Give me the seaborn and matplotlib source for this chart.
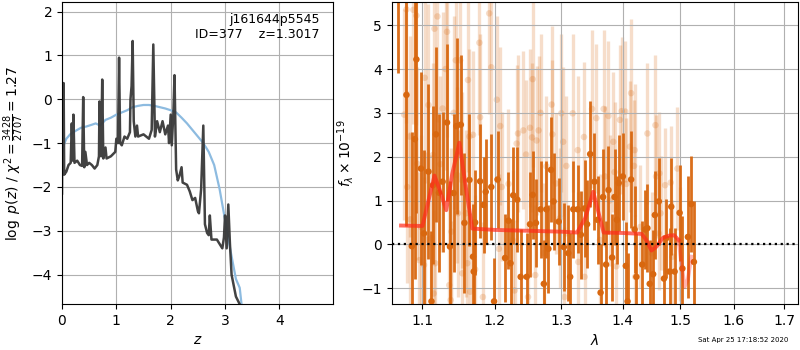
import matplotlib
matplotlib.use("Agg")
import matplotlib.pyplot as plt
from matplotlib.ticker import NullLocator, FixedLocator, FixedFormatter
import seaborn as sns

# p(z) curves
z_fit = [0.00, 0.01, 0.02, 0.03, 0.04, 0.08, 0.12, 0.16, 0.18, 0.20, 0.21, 0.23,
         0.28, 0.33, 0.37, 0.39, 0.41, 0.43, 0.46, 0.50, 0.55, 0.60, 0.65, 0.68,
         0.69, 0.70, 0.72, 0.74, 0.76, 0.80, 0.82, 0.90, 0.98, 1.00, 1.03, 1.05,
         1.07, 1.10, 1.15, 1.20, 1.25, 1.26, 1.28, 1.30, 1.32, 1.35, 1.38, 1.40,
         1.50, 1.60, 1.65, 1.68, 1.71, 1.75, 1.80, 1.85, 1.90, 1.95, 1.97, 2.00,
         2.02, 2.05, 2.07, 2.10, 2.13, 2.16, 2.20, 2.22, 2.30, 2.35, 2.40, 2.45,
         2.50, 2.52, 2.56, 2.60, 2.63, 2.67, 2.70, 2.72, 2.75, 2.85, 2.90, 2.95,
         2.98, 3.00, 3.03, 3.06, 3.09, 3.12, 3.20, 3.30]
logpz = [-2.15, 0.35, -1.00, 0.37, -1.72, -1.65, -1.50, -1.45, -0.55, -1.40, -0.35, -1.45,
         -1.40, -1.50, -1.52, 0.05, -1.55, -1.20, -1.50, -1.45, -1.50, -1.58, -1.50, -1.30,
         -0.05, -1.25, -1.30, 0.45, -1.35, -1.10, -1.35, -1.30, -1.20, -0.90, -1.00, 0.95,
         -1.00, -1.05, -0.85, -0.90, -0.75, 0.00, 0.30, 1.33, -0.50, -0.85, -0.60, -0.85,
         -0.80, -0.90, -0.70, 1.25, -0.85, -0.50, -0.75, -0.50, -0.80, -0.60, -1.00, -0.35,
         -1.05, -0.30, 0.55, -1.60, -1.85, -1.75, -1.55, -1.90, -1.95, -2.10, -2.30, -2.25,
         -2.55, -2.60, -2.05, -0.60, -2.85, -3.05, -3.10, -2.65, -3.20, -3.20, -3.30, -3.40,
         -3.15, -2.65, -3.40, -2.40, -3.30, -4.00, -4.50, -4.75]

z_prior = [0.00, 0.03, 0.08, 0.15, 0.25, 0.35, 0.45, 0.55, 0.62, 0.70, 0.80, 0.90,
           1.00, 1.10, 1.20, 1.30, 1.40, 1.50, 1.60, 1.70, 1.80, 1.90, 2.00, 2.10,
           2.20, 2.30, 2.40, 2.50, 2.60, 2.70, 2.80, 2.90, 3.00, 3.10, 3.20, 3.27, 3.31]
logp_prior = [-1.30, -1.05, -0.90, -0.80, -0.72, -0.65, -0.62, -0.58, -0.55, -0.60, -0.47, -0.42,
              -0.35, -0.30, -0.25, -0.18, -0.15, -0.13, -0.13, -0.15, -0.18, -0.21, -0.25, -0.30,
              -0.42, -0.55, -0.70, -0.85, -1.00, -1.20, -1.50, -2.05, -2.75, -3.45, -4.10, -4.30, -4.75]

# spectrum, primary (dark) points
wave_a = [1.068, 1.079, 1.086, 1.090, 1.092, 1.098, 1.102, 1.108, 1.112, 1.114,
          1.118, 1.122, 1.127, 1.133, 1.137, 1.142, 1.146, 1.152, 1.157, 1.164,
          1.169, 1.170, 1.172, 1.179, 1.184, 1.187, 1.195, 1.199, 1.204, 1.215,
          1.220, 1.223, 1.227, 1.233, 1.238, 1.247, 1.252, 1.256, 1.261, 1.268,
          1.273, 1.277, 1.280, 1.284, 1.288, 1.296, 1.304, 1.311, 1.314, 1.319,
          1.326, 1.331, 1.337, 1.341, 1.346, 1.353, 1.358, 1.363, 1.367, 1.372,
          1.376, 1.382, 1.386, 1.390, 1.393, 1.400, 1.405, 1.408, 1.414, 1.420,
          1.423, 1.433, 1.438, 1.442, 1.446, 1.452, 1.455, 1.462, 1.471, 1.475,
          1.481, 1.484, 1.490, 1.499, 1.504, 1.514, 1.520, 1.525]
flux_a = [6.90, 3.41, -0.04, 2.40, 4.22, 1.73, 0.25, 1.66, -1.30, 1.35,
          2.51, 1.18, 1.43, 2.78, -0.05, 1.17, 2.70, 2.73, 0.49, 1.47,
          -0.28, -0.62, 0.50, 1.44, 0.90, 1.20, 1.31, -1.30, 1.48, -0.31,
          0.54, -0.43, 1.12, 1.02, -0.74, -0.74, 0.46, 1.13, 0.49, 0.80,
          -0.90, 0.80, -0.10, 1.70, 0.98, 0.52, -0.06, -0.20, -0.74, 0.80,
          0.80, 0.22, 0.82, 0.46, 2.06, 1.43, 0.56, -1.10, 1.08, -0.46,
          1.24, -0.30, 1.08, 0.56, 1.40, 1.55, -0.49, -1.30, 1.48, 0.34,
          -0.74, -0.46, 0.34, 0.37, -0.90, -0.68, 0.67, 0.98, -0.78, 0.14,
          -0.62, 0.86, -0.62, 0.72, -0.55, 0.17, 0.92, -0.40]
err_a = [3.0, 3.0, 2.6, 3.2, 3.5, 2.2, 1.9, 2.0, 1.6, 1.8,
         2.0, 1.8, 1.6, 1.8, 1.5, 1.8, 2.0, 1.6, 1.6, 1.5,
         1.2, 1.2, 1.2, 1.3, 1.1, 1.2, 1.2, 1.0, 1.1, 1.0,
         1.1, 1.0, 1.1, 1.2, 1.1, 1.0, 1.2, 1.0, 1.0, 1.1,
         1.0, 1.1, 1.0, 1.2, 1.1, 1.0, 1.0, 1.1, 1.0, 1.1,
         1.0, 1.0, 1.1, 1.0, 1.2, 1.1, 1.0, 1.1, 1.1, 1.0,
         1.0, 1.0, 1.1, 1.0, 1.1, 1.0, 1.0, 1.1, 1.1, 1.0,
         1.0, 1.0, 0.9, 1.0, 1.0, 1.0, 1.0, 1.0, 1.0, 0.9,
         1.0, 1.1, 1.0, 1.1, 1.2, 1.4, 1.1, 1.4]

# spectrum, second (faint) points
wave_b = [1.076, 1.079, 1.080, 1.083, 1.084, 1.088, 1.092, 1.093, 1.096, 1.098,
          1.102, 1.103, 1.104, 1.108, 1.112, 1.114, 1.115, 1.116, 1.117, 1.120,
          1.124, 1.127, 1.131, 1.133, 1.136, 1.138, 1.139, 1.142, 1.145, 1.147,
          1.148, 1.151, 1.153, 1.154, 1.159, 1.161, 1.162, 1.164, 1.165, 1.169,
          1.172, 1.178, 1.179, 1.183, 1.192, 1.195, 1.203, 1.206, 1.208, 1.210,
          1.220, 1.226, 1.229, 1.232, 1.234, 1.242, 1.246, 1.249, 1.252, 1.255,
          1.256, 1.260, 1.262, 1.265, 1.268, 1.273, 1.277, 1.285, 1.286, 1.292,
          1.298, 1.300, 1.303, 1.305, 1.308, 1.318, 1.326, 1.327, 1.336, 1.337,
          1.349, 1.356, 1.362, 1.368, 1.370, 1.376, 1.378, 1.384, 1.386, 1.389,
          1.395, 1.398, 1.404, 1.406, 1.412, 1.414, 1.419, 1.420, 1.421, 1.430,
          1.442, 1.450, 1.456, 1.457, 1.462, 1.463, 1.465, 1.473, 1.483, 1.486,
          1.495, 1.500]
flux_b = [2.96, 5.36, 1.31, 2.46, 0.57, 5.35, 5.22, 1.84, -0.36, 0.40,
          -0.47, 3.80, 0.11, 3.18, 0.14, 2.04, -1.12, 4.92, -0.43, 5.20,
          1.83, 3.10, 4.00, 4.85, -0.93, -1.27, 0.29, 3.00, 4.20, 1.58,
          0.71, 4.20, 1.47, -0.66, 0.71, -0.43, 3.75, 2.46, -1.08, 2.50,
          -0.57, 4.60, 2.90, -1.20, 5.27, 4.04, 3.30, -0.10, 2.70, 1.31,
          1.38, 0.10, -1.05, 2.30, 2.53, 2.60, 2.05, -1.20, 2.66, 2.44,
          3.77, -0.70, 2.37, 2.60, 3.00, -0.20, 1.78, 3.19, 2.51, 1.39,
          0.60, 2.99, 2.34, -1.20, 1.79, 2.99, 2.15, -0.40, 2.45, -0.74,
          3.09, 2.88, 0.10, 3.09, 1.55, 2.93, 1.00, 2.34, 1.65, -0.50,
          2.84, 3.04, 3.03, 1.38, 2.23, 3.45, 1.79, 2.15, -0.74, 0.40,
          2.53, -0.20, 2.72, 1.55, 0.25, 1.62, 0.71, 1.35, 1.41, -0.28,
          1.73, 0.02]
err_b = [2.4, 2.6, 2.2, 2.3, 2.0, 2.6, 2.5, 2.2, 2.0, 2.1,
         2.0, 2.4, 2.0, 2.3, 1.9, 2.1, 1.9, 2.4, 1.9, 2.4,
         2.0, 2.2, 2.3, 2.4, 1.9, 1.8, 1.9, 2.2, 2.3, 2.0,
         1.9, 2.2, 2.0, 1.8, 1.9, 1.8, 2.1, 2.0, 1.8, 1.9,
         1.7, 2.1, 1.9, 1.7, 2.3, 2.0, 1.9, 1.7, 1.8, 1.7,
         1.7, 1.6, 1.6, 1.8, 1.8, 1.8, 1.7, 1.6, 1.8, 1.7,
         2.0, 1.6, 1.7, 1.7, 1.8, 1.6, 1.6, 1.8, 1.7, 1.6,
         1.6, 1.8, 1.7, 1.6, 1.6, 1.8, 1.7, 1.6, 1.7, 1.6,
         1.8, 1.7, 1.5, 1.8, 1.6, 1.7, 1.5, 1.6, 1.6, 1.5,
         1.7, 1.7, 1.6, 1.5, 1.5, 1.7, 1.5, 1.5, 1.4, 1.4,
         1.6, 1.4, 1.6, 1.4, 1.3, 1.4, 1.3, 1.3, 1.3, 1.3,
         1.4, 1.3]

# best-fit model
wave_model = [1.072, 1.100, 1.108, 1.116, 1.124, 1.132, 1.140, 1.150, 1.158, 1.168,
              1.200, 1.250, 1.300, 1.325, 1.338, 1.351, 1.360, 1.368, 1.400, 1.432,
              1.440, 1.449, 1.458, 1.469, 1.480, 1.489, 1.497]
flux_model = [0.43, 0.42, 1.00, 1.57, 1.20, 0.78, 1.60, 2.32, 1.40, 0.36,
              0.33, 0.31, 0.29, 0.27, 0.60, 1.20, 0.70, 0.27, 0.26, 0.24,
              0.10, -0.14, -0.05, 0.15, 0.20, 0.21, 0.10]
wave_tail = [1.497, 1.503, 1.508, 1.514, 1.520]
flux_tail = [0.10, -0.50, -0.97, -0.80, -0.28]

xticks = [1.1, 1.2, 1.3, 1.4, 1.5, 1.6, 1.7]

orange = "#d8670f"

fig = plt.figure(figsize=(8, 3.5), dpi=100)
ax1 = fig.add_axes([0.0775, 0.1314, 0.339, 0.863])
ax2 = fig.add_axes([0.4896, 0.1314, 0.5085, 0.863])

# --- left: p(z)
sns.lineplot(x=z_prior, y=logp_prior, ax=ax1, sort=False, estimator=None,
             color="#8dbbe0", lw=1.6)
sns.lineplot(x=z_fit, y=logpz, ax=ax1, sort=False, estimator=None,
             color="0.22", lw=1.8, alpha=0.95)
ax1.set_xlim(0, 4.99)
ax1.set_ylim(-4.67, 2.22)
ax1.set_xticks([0, 1, 2, 3, 4])
ax1.set_yticks([-4, -3, -2, -1, 0, 1, 2])
ax1.grid(True)
ax1.set_xlabel("$z$")
ax1.set_ylabel(r"$\log\ p(z)$ / $\chi^2=\frac{3428}{2707}=1.27$")
ax1.text(0.95, 0.965, "j161644p5545\nID=377    z=1.3017", ha="right", va="top",
         transform=ax1.transAxes, fontsize=9)

# --- right: spectrum
ax2.errorbar(wave_b, flux_b, yerr=err_b, fmt="none", ecolor=orange, alpha=0.22,
             elinewidth=2.4, capsize=0, zorder=1)
sns.scatterplot(x=wave_b, y=flux_b, ax=ax2, color=orange, alpha=0.22, s=22,
                edgecolor="none", zorder=1)
ax2.errorbar(wave_a, flux_a, yerr=err_a, fmt="none", ecolor=orange, alpha=0.95,
             elinewidth=2.0, capsize=0, zorder=2)
sns.scatterplot(x=wave_a, y=flux_a, ax=ax2, color=orange, s=22,
                edgecolor="none", zorder=3)
sns.lineplot(x=wave_model, y=flux_model, ax=ax2, sort=False, estimator=None,
             color="#ff2a1a", lw=2.8, alpha=0.7, zorder=4)
sns.lineplot(x=wave_tail, y=flux_tail, ax=ax2, sort=False, estimator=None,
             color="#ff2a1a", lw=2.8, alpha=0.35, zorder=4)
ax2.axhline(0, color="k", ls=":", lw=1.6, zorder=5)

ax2.set_xscale("log")
ax2.set_xlim(1.060, 1.7295)
ax2.set_ylim(-1.36, 5.53)
ax2.xaxis.set_major_locator(FixedLocator(xticks))
ax2.xaxis.set_major_formatter(FixedFormatter([f"{t:.1f}" for t in xticks]))
ax2.xaxis.set_minor_locator(NullLocator())
ax2.set_yticks([-1, 0, 1, 2, 3, 4, 5])
ax2.grid(True)
ax2.set_xlabel(r"$\lambda$")
ax2.set_ylabel(r"$f_\lambda \times 10^{-19}$")

fig.text(0.985, 0.02, "Sat Apr 25 17:18:52 2020", ha="right", va="bottom", fontsize=5)

fig.savefig("out.png", dpi=100)
